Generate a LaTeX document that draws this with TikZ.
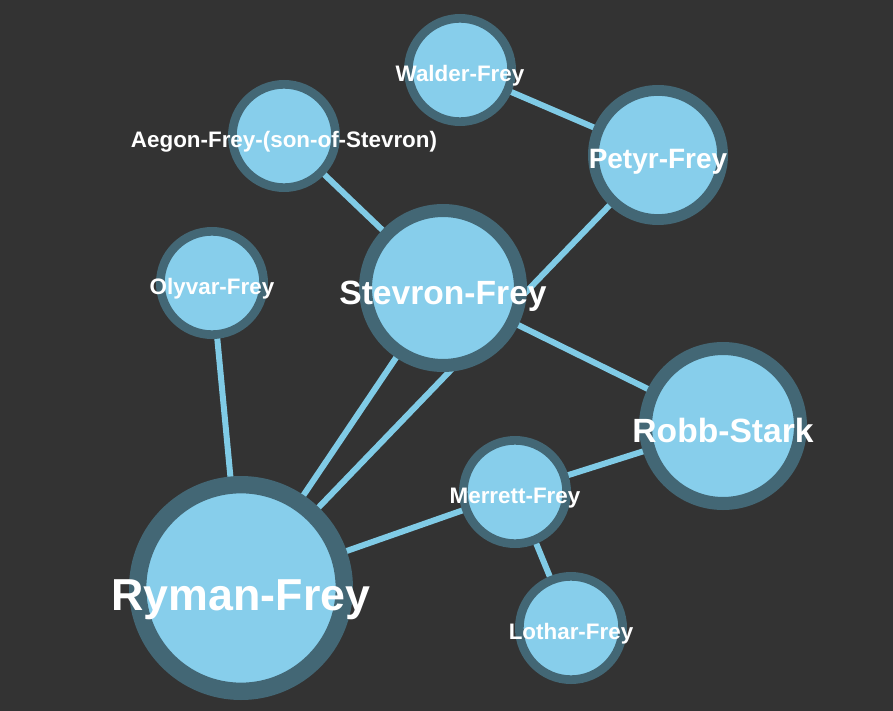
\documentclass[tikz,border=0pt]{standalone}
\usepackage{fontspec}
\setmainfont{Liberation Sans}
\pgfdeclarelayer{bg}
\pgfdeclarelayer{edges}
\pgfsetlayers{bg,edges,main}
\definecolor{bgcol}{HTML}{333333}
\definecolor{nodefill}{HTML}{87CEEB}
\definecolor{ringcol}{RGB}{67,103,117}
\definecolor{edgecol}{HTML}{80CBE6}
\tikzset{
  gnode/.style={circle, draw=ringcol, fill=nodefill, inner sep=0pt},
  glabel/.style={text=white, inner sep=0pt},
  gedge/.style={draw=edgecol, line width=6pt},
}
\newcommand\gvnode[5]{%
  \pgfmathsetmacro\grt{0.155*#4}%
  \pgfmathsetmacro\gdd{2*#4-\grt}%
  \pgfmathsetmacro\gfs{0.4*#4}%
  \node[gnode, minimum size=\gdd pt, line width=\grt pt] (#1) at (#2,#3) {};
  \node[glabel, anchor=base, font=\fontsize{\gfs pt}{\gfs pt}\selectfont\bfseries] (#1-lbl) at (#2,#3+0.5*\gfs) {#5};
}
\begin{document}
\begin{tikzpicture}[x=1pt, y=-1pt]
\begin{pgfonlayer}{bg}
  \fill[bgcol] (0,0) rectangle (893,711);
\end{pgfonlayer}
\useasboundingbox (0,0) rectangle (893,711);
\gvnode{walder}{460}{70}{56}{Walder-Frey}
\gvnode{petyr}{658}{155}{70}{Petyr-Frey}
\gvnode{aegon}{284}{136}{56}{Aegon-Frey-(son-of-Stevron)}
\gvnode{stevron}{443}{288}{84}{Stevron-Frey}
\gvnode{olyvar}{212}{283}{56}{Olyvar-Frey}
\gvnode{robb}{723}{426}{84}{Robb-Stark}
\gvnode{merrett}{515}{492}{56}{Merrett-Frey}
\gvnode{lothar}{571}{628}{56}{Lothar-Frey}
\gvnode{ryman}{241}{588}{112}{Ryman-Frey}
\begin{pgfonlayer}{edges}
  \draw[gedge] (walder.center) -- (petyr.center);
  \draw[gedge] (aegon.center) -- (stevron.center);
  \draw[gedge] (petyr.center) -- (ryman.center);
  \draw[gedge] (stevron.center) -- (ryman.center);
  \draw[gedge] (stevron.center) -- (robb.center);
  \draw[gedge] (olyvar.center) -- (ryman.center);
  \draw[gedge] (ryman.center) -- (merrett.center);
  \draw[gedge] (merrett.center) -- (robb.center);
  \draw[gedge] (merrett.center) -- (lothar.center);
\end{pgfonlayer}
\end{tikzpicture}
\end{document}
